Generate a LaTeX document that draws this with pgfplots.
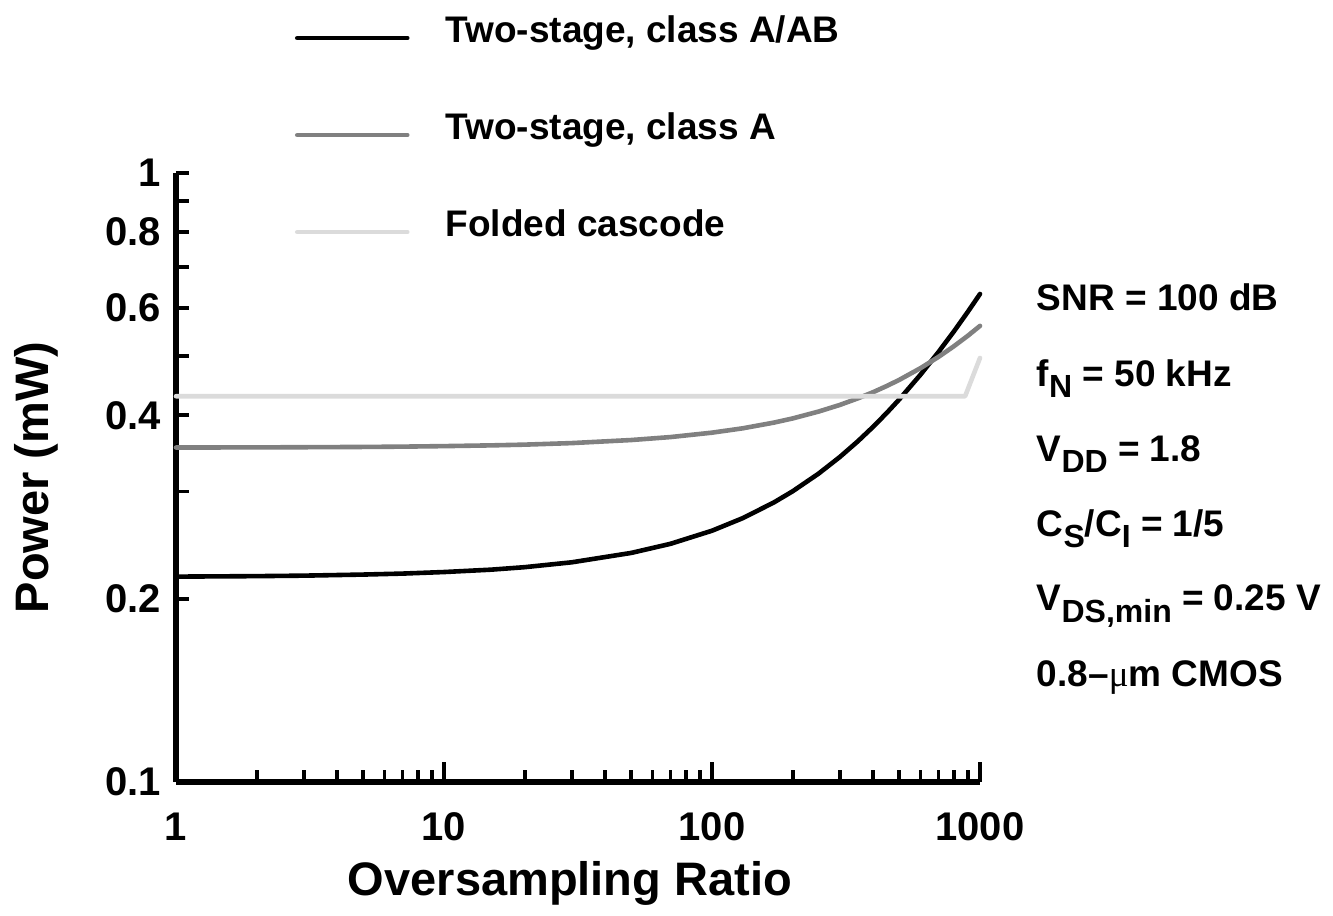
\documentclass[border=0pt]{standalone}
\usepackage{pgfplots}
\pgfplotsset{compat=1.18}
\usepackage{fontspec}
\setmainfont{Liberation Sans}
\newfontfamily\mufont{Liberation Serif}

\definecolor{classA}{gray}{0.50}
\definecolor{folded}{gray}{0.86}

% lowered, slightly smaller subscript as used in the parameter list
\newcommand{\sub}[1]{\raisebox{-0.32em}{\fontsize{16bp}{16bp}\selectfont #1}}

\begin{document}
\begin{tikzpicture}
\useasboundingbox (-88bp,-67bp) rectangle (578.5bp,391bp);
\begin{axis}[
  scale only axis, width=402bp, height=304.5bp,
  xmode=log, ymode=log,
  xmin=1, xmax=1000, ymin=0.1, ymax=1,
  axis x line*=bottom, axis y line*=left,
  axis line style={line width=2.6bp, -},
  tick align=inside,
  tick style={line width=1.9bp, black},
  major tick length=10bp, minor tick length=6bp,
  xtick={1,10,100,1000},
  xticklabels={1,10,100,1000},
  minor xtick={2,3,4,5,6,7,8,9,20,30,40,50,60,70,80,90,200,300,400,500,600,700,800,900},
  ytick={0.1,0.2,0.3,0.4,0.5,0.6,0.7,0.8,0.9,1},
  yticklabels={0.1,0.2,,0.4,,0.6,,0.8,,1},
  ytick style={/pgfplots/major tick length=6.5bp},
  ticklabel style={font=\fontsize{20bp}{24bp}\selectfont\bfseries},
  xticklabel style={yshift=-12bp},
  yticklabel style={xshift=-4bp},
  xlabel={Oversampling Ratio},
  ylabel={Power (mW)},
  label style={font=\fontsize{23.5bp}{28bp}\selectfont\bfseries},
  xlabel style={at={(axis description cs:0.49,0)}, anchor=north, yshift=-36bp},
  ylabel style={at={(axis description cs:-0.138,0.5)}, anchor=south},
  clip=false,
  every axis plot/.append style={line width=2.3bp, line cap=round, line join=round},
  legend image code/.code={%
    \path[draw=none, fill=none] (0bp,-5bp) (55bp,14bp);
    \draw[#1] (0bp,-2.5bp) -- (55bp,-2.5bp);},
  legend cell align=left,
  legend style={
    at={(axis description cs:0.148,1.2758)}, anchor=north west,
    draw=none, fill=none, inner sep=0pt, outer sep=0pt,
    row sep=25bp, column sep=18bp,
    nodes={inner sep=0pt, text height=14bp, text depth=5bp,
           font=\fontsize{18.5bp}{22bp}\selectfont\bfseries},
  },
]
% two-stage amplifier, class A output stage driven class AB
\addplot[black] coordinates {
  (1,0.2174) (2,0.2178) (3,0.2182) (5,0.2191) (7,0.2199) (10,0.2212)
  (15,0.2232) (20,0.2253) (30,0.2295) (50,0.2378) (70,0.2461) (100,0.2586)
  (130,0.2711) (170,0.2877) (200,0.3002) (250,0.3210) (300,0.3418)
  (350,0.3626) (400,0.3834) (450,0.4042) (500,0.4250) (600,0.4666)
  (700,0.5082) (800,0.5498) (900,0.5914) (1000,0.6330)
};
\addlegendentry{Two-stage, class A/AB}
% two-stage amplifier, class A
\addplot[classA] coordinates {
  (1,0.3542) (2,0.3544) (3,0.3546) (5,0.3550) (7,0.3554) (10,0.3561)
  (15,0.3571) (20,0.3581) (30,0.3602) (50,0.3644) (70,0.3685) (100,0.3747)
  (130,0.3809) (170,0.3892) (200,0.3954) (250,0.4058) (300,0.4161)
  (350,0.4265) (400,0.4368) (450,0.4472) (500,0.4575) (600,0.4782)
  (700,0.4989) (800,0.5196) (900,0.5403) (1000,0.5610)
};
\addlegendentry{Two-stage, class A}
% folded cascode
\addplot[folded] coordinates {
  (1,0.430) (880,0.430) (1000,0.497)
};
\addlegendentry{Folded cascode}

% design parameters
\begin{scope}[every node/.style={anchor=base west,
    font=\fontsize{18.5bp}{22bp}\selectfont\bfseries}]
\node at (axis description cs:1.062,0.7734) {SNR = 100 dB};
\node at (axis description cs:1.062,0.6502) {f\sub{N} = 50 kHz};
\node at (axis description cs:1.062,0.5270) {V\sub{DD} = 1.8};
\node at (axis description cs:1.062,0.4039) {C\sub{S}/C\sub{I} = 1/5};
\node at (axis description cs:1.062,0.2808) {V\sub{DS,min} = 0.25 V};
\node at (axis description cs:1.062,0.1576) {0.8--{\mufont\mdseries μ}m CMOS};
\end{scope}
\end{axis}
\end{tikzpicture}
\end{document}
